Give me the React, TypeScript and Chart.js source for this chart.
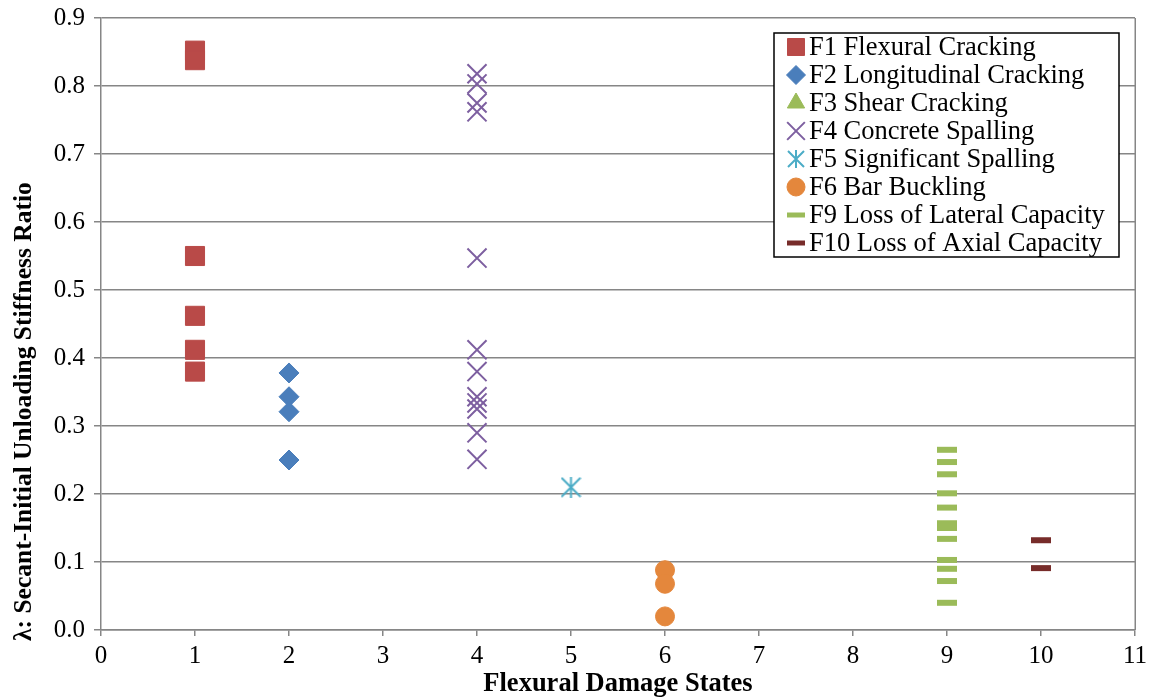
import React, { useEffect, useRef } from "react";
import { Chart, registerables } from "chart.js";
import { drawPoint } from "chart.js/helpers";

Chart.register(...registerables);

// ---- data ----
const seriesLabels = [
  "F1 Flexural Cracking",
  "F2 Longitudinal Cracking",
  "F3 Shear Cracking",
  "F4 Concrete Spalling",
  "F5 Significant Spalling",
  "F6 Bar Buckling",
  "F9 Loss of Lateral Capacity",
  "F10 Loss of Axial Capacity",
];
const damageStates = [1, 2, 3, 4, 5, 6, 9, 10];

const f1Values = [0.852, 0.838, 0.55, 0.462, 0.412, 0.38];
const f2Values = [0.378, 0.343, 0.321, 0.25];
const f3Values: number[] = [];
const f4Values = [0.818, 0.803, 0.775, 0.762, 0.547, 0.412, 0.38, 0.343, 0.334, 0.325, 0.29, 0.251];
const f5Values = [0.21];
const f6Values = [0.088, 0.068, 0.02];
const f9Values = [0.265, 0.247, 0.229, 0.201, 0.18, 0.157, 0.15, 0.134, 0.103, 0.09, 0.072, 0.04];
const f10Values = [0.132, 0.091];

const xTickLabels = ["0", "1", "2", "3", "4", "5", "6", "7", "8", "9", "10", "11"];
const yTickLabels = ["0.0", "0.1", "0.2", "0.3", "0.4", "0.5", "0.6", "0.7", "0.8", "0.9"];

const xTitle = "Flexural Damage States";
const yTitle = "λ: Secant-Initial Unloading Stiffness Ratio";

const seriesValues = [f1Values, f2Values, f3Values, f4Values, f5Values, f6Values, f9Values, f10Values];

// ---- styles ----
const FONT = "'Liberation Serif', 'Times New Roman', serif";
const GRID = "#868686";
const seriesColors = ["#B94A48", "#4A7EBB", "#9BBB59", "#7D5FA0", "#4BACC6", "#E4873C", "#9BBB59", "#772C2A"];

function makeAsterisk(size: number, color: string, lw: number) {
  const c = document.createElement("canvas");
  c.width = size;
  c.height = size;
  const g = c.getContext("2d")!;
  g.strokeStyle = color;
  g.lineWidth = lw;
  const p = 1;
  const q = size - 1;
  const m = size / 2;
  g.beginPath();
  g.moveTo(p, p);
  g.lineTo(q, q);
  g.moveTo(q, p);
  g.lineTo(p, q);
  g.moveTo(m, 0);
  g.lineTo(m, size);
  g.stroke();
  return c;
}

const framePlugin = {
  id: "rightFrame",
  beforeDatasetsDraw(chart: any) {
    const { ctx, chartArea } = chart;
    ctx.save();
    ctx.strokeStyle = GRID;
    ctx.lineWidth = 1.5;
    ctx.beginPath();
    ctx.moveTo(chartArea.right + 0.25, chartArea.top);
    ctx.lineTo(chartArea.right + 0.25, chartArea.bottom);
    ctx.stroke();
    ctx.restore();
  },
};

const yTitlePlugin = {
  id: "yTitle",
  afterDraw(chart: any) {
    const { ctx, chartArea } = chart;
    ctx.save();
    ctx.translate(24, chartArea.bottom + 11);
    ctx.rotate(-Math.PI / 2);
    ctx.fillStyle = "#000";
    ctx.font = `bold 25.5px ${FONT}`;
    ctx.textAlign = "left";
    ctx.textBaseline = "middle";
    ctx.fillText(yTitle, 0, 0);
    ctx.restore();
  },
};

const legendPlugin = {
  id: "boxLegend",
  afterDraw(chart: any) {
    const { ctx, chartArea } = chart;
    const datasets = chart.data.datasets;
    const rowH = 28;
    const boxW = 345;
    const boxH = datasets.length * rowH;
    const right = chartArea.right - 16;
    const top = chartArea.top + 15;
    const left = right - boxW;
    ctx.save();
    ctx.fillStyle = "#fff";
    ctx.fillRect(left, top, boxW, boxH);
    ctx.strokeStyle = "#000";
    ctx.lineWidth = 1.5;
    ctx.strokeRect(left, top, boxW, boxH);
    datasets.forEach((ds: any, i: number) => {
      const cy = top + 14 + i * rowH;
      const lm = ds.legendMarker;
      ctx.save();
      ctx.fillStyle = ds.backgroundColor;
      ctx.strokeStyle = ds.borderColor;
      ctx.lineWidth = lm.borderWidth;
      drawPoint(ctx, { pointStyle: lm.style, radius: lm.radius, rotation: 0, borderWidth: lm.borderWidth } as any, left + 22, cy);
      ctx.restore();
      ctx.fillStyle = "#000";
      ctx.font = `26.5px ${FONT}`;
      ctx.textBaseline = "middle";
      ctx.textAlign = "left";
      ctx.fillText(ds.label, left + 35, cy + 1);
    });
    ctx.restore();
  },
};

export default function App() {
  const ref = useRef<HTMLCanvasElement | null>(null);

  useEffect(() => {
    if (!ref.current) return;
    const star = makeAsterisk(21, seriesColors[4], 2);
    const starSmall = makeAsterisk(18, seriesColors[4], 2);

    const markers = [
      { style: "rect", radius: 13.5, borderWidth: 1, legend: { style: "rect", radius: 12, borderWidth: 1 } },
      { style: "rectRot", radius: 10, borderWidth: 1, legend: { style: "rectRot", radius: 9.5, borderWidth: 1 } },
      { style: "triangle", radius: 10, borderWidth: 1, legend: { style: "triangle", radius: 10, borderWidth: 1 } },
      { style: "crossRot", radius: 13.5, borderWidth: 2, legend: { style: "crossRot", radius: 12.5, borderWidth: 2 } },
      { style: star, radius: 10, borderWidth: 0, legend: { style: starSmall, radius: 9, borderWidth: 0 } },
      { style: "circle", radius: 9.5, borderWidth: 1, legend: { style: "circle", radius: 9, borderWidth: 1 } },
      { style: "line", radius: 10, borderWidth: 6, legend: { style: "line", radius: 9, borderWidth: 5 } },
      { style: "line", radius: 10, borderWidth: 6, legend: { style: "line", radius: 9, borderWidth: 5 } },
    ];

    const datasets = seriesLabels.map((label, i) => ({
      label,
      data: seriesValues[i].map((v) => ({ x: damageStates[i], y: v })),
      showLine: false,
      backgroundColor: seriesColors[i],
      borderColor: seriesColors[i],
      pointStyle: markers[i].style as any,
      pointRadius: markers[i].radius,
      pointBorderWidth: markers[i].borderWidth,
      legendMarker: markers[i].legend,
    }));

    const chart = new Chart(ref.current, {
      type: "scatter",
      data: { datasets: datasets as any },
      plugins: [framePlugin, legendPlugin, yTitlePlugin],
      options: {
        responsive: false,
        animation: false,
        events: [],
        layout: { padding: { top: 18, right: 15, left: 0, bottom: 0 } },
        plugins: {
          legend: { display: false },
          tooltip: { enabled: false },
        },
        scales: {
          x: {
            type: "linear",
            min: 0,
            max: 11,
            afterFit: (s: any) => {
              s.height = 70;
              s.paddingLeft = 0;
              s.paddingRight = 0;
            },
            ticks: {
              stepSize: 1,
              color: "#000",
              padding: 5,
              font: { family: FONT, size: 25 },
              callback: (v: any) => xTickLabels[Math.round(Number(v))],
            },
            grid: { drawOnChartArea: false, color: GRID, lineWidth: 1.5, tickLength: 6 },
            border: { color: GRID, width: 1.5 },
            title: {
              display: true,
              text: xTitle,
              color: "#000",
              font: { family: FONT, size: 26.5, weight: "bold" },
              padding: { top: 0, bottom: 0 },
            },
          },
          y: {
            type: "linear",
            min: 0,
            max: 0.9,
            afterFit: (s: any) => {
              s.width = 101;
              s.paddingTop = 0;
              s.paddingBottom = 0;
            },
            ticks: {
              stepSize: 0.1,
              color: "#000",
              padding: 9,
              font: { family: FONT, size: 25 },
              callback: (v: any) => yTickLabels[Math.round(Number(v) * 10)],
            },
            grid: { color: GRID, lineWidth: 1.5, tickLength: 7 },
            border: { color: GRID, width: 1.5 },
            title: { display: false },
          },
        },
      } as any,
    });
    return () => chart.destroy();
  }, []);

  return (
    <div style={{ position: "absolute", left: 0, top: 0, width: 1151, height: 700, background: "#fff" }}>
      <canvas ref={ref} width={1151} height={700} style={{ display: "block" }} />
    </div>
  );
}
